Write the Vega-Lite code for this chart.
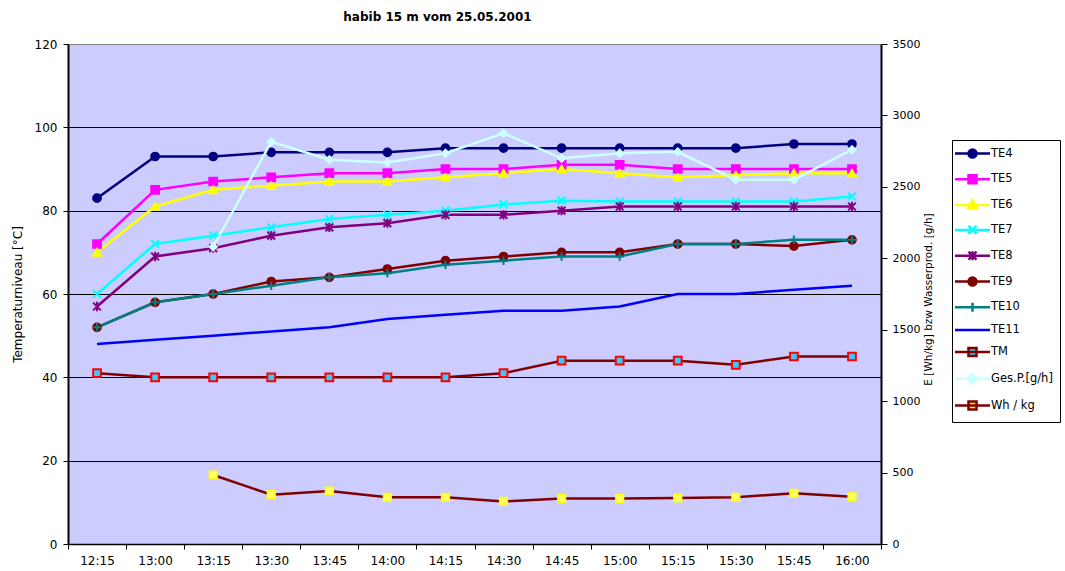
{
  "$schema": "https://vega.github.io/schema/vega-lite/v6.json",
  "width": 813,
  "height": 500,
  "autosize": "none",
  "padding": {"left": 68, "top": 44, "right": 184, "bottom": 27},
  "background": "white",
  "title": {
    "text": "habib 15 m vom 25.05.2001",
    "font": "DejaVu Sans",
    "fontSize": 12,
    "fontWeight": "bold",
    "color": "black",
    "anchor": "middle",
    "dx": -37,
    "offset": 14
  },
  "data": {
    "values": [
      {"t": "12:15", "TE4": 83, "TE5": 72, "TE6": 70, "TE7": 60, "TE8": 57, "TE9": 52, "TE10": 52, "TE11": 48, "TM": 41, "GesP": null, "Whkg": null},
      {"t": "13:00", "TE4": 93, "TE5": 85, "TE6": 81, "TE7": 72, "TE8": 69, "TE9": 58, "TE10": 58, "TE11": 49, "TM": 40, "GesP": null, "Whkg": null},
      {"t": "13:15", "TE4": 93, "TE5": 87, "TE6": 85, "TE7": 74, "TE8": 71, "TE9": 60, "TE10": 60, "TE11": 50, "TM": 40, "GesP": 2080, "Whkg": 483},
      {"t": "13:30", "TE4": 94, "TE5": 88, "TE6": 86, "TE7": 76, "TE8": 74, "TE9": 63, "TE10": 62, "TE11": 51, "TM": 40, "GesP": 2815, "Whkg": 345},
      {"t": "13:45", "TE4": 94, "TE5": 89, "TE6": 87, "TE7": 78, "TE8": 76, "TE9": 64, "TE10": 64, "TE11": 52, "TM": 40, "GesP": 2690, "Whkg": 371},
      {"t": "14:00", "TE4": 94, "TE5": 89, "TE6": 87, "TE7": 79, "TE8": 77, "TE9": 66, "TE10": 65, "TE11": 54, "TM": 40, "GesP": 2670, "Whkg": 327},
      {"t": "14:15", "TE4": 95, "TE5": 90, "TE6": 88, "TE7": 80, "TE8": 79, "TE9": 68, "TE10": 67, "TE11": 55, "TM": 40, "GesP": 2735, "Whkg": 327},
      {"t": "14:30", "TE4": 95, "TE5": 90, "TE6": 89, "TE7": 81.5, "TE8": 79, "TE9": 69, "TE10": 68, "TE11": 56, "TM": 41, "GesP": 2875, "Whkg": 298},
      {"t": "14:45", "TE4": 95, "TE5": 91, "TE6": 90, "TE7": 82.4, "TE8": 80, "TE9": 70, "TE10": 69, "TE11": 56, "TM": 44, "GesP": 2700, "Whkg": 318},
      {"t": "15:00", "TE4": 95, "TE5": 91, "TE6": 89, "TE7": 82.2, "TE8": 81, "TE9": 70, "TE10": 69, "TE11": 57, "TM": 44, "GesP": 2735, "Whkg": 318},
      {"t": "15:15", "TE4": 95, "TE5": 90, "TE6": 88, "TE7": 82.2, "TE8": 81, "TE9": 72, "TE10": 72, "TE11": 60, "TM": 44, "GesP": 2745, "Whkg": 322},
      {"t": "15:30", "TE4": 95, "TE5": 90, "TE6": 88.5, "TE7": 82.2, "TE8": 81, "TE9": 72, "TE10": 72, "TE11": 60, "TM": 43, "GesP": 2550, "Whkg": 327},
      {"t": "15:45", "TE4": 96, "TE5": 90, "TE6": 89, "TE7": 82.2, "TE8": 81, "TE9": 71.5, "TE10": 73, "TE11": 61, "TM": 45, "GesP": 2550, "Whkg": 355},
      {"t": "16:00", "TE4": 96, "TE5": 90, "TE6": 89, "TE7": 83.4, "TE8": 81, "TE9": 73, "TE10": 73, "TE11": 62, "TM": 45, "GesP": 2760, "Whkg": 330}
    ]
  },
  "transform": [
    {"fold": ["TE4", "TE5", "TE6", "TE7", "TE8", "TE9", "TE10", "TE11", "TM", "GesP", "Whkg"], "as": ["s", "v"]}
  ],
  "encoding": {
    "x": {
      "field": "t",
      "type": "ordinal",
      "sort": ["12:15", "13:00", "13:15", "13:30", "13:45", "14:00", "14:15", "14:30", "14:45", "15:00", "15:15", "15:30", "15:45", "16:00"],
      "scale": {"type": "band", "paddingInner": 0, "paddingOuter": 0},
      "axis": {
        "title": null,
        "labelAngle": 0,
        "tickBand": "extent",
        "tickSize": 5,
        "labelPadding": 6,
        "domainWidth": 1.5,
        "grid": false
      }
    }
  },
  "layer": [
    {
      "transform": [{"filter": {"field": "s", "oneOf": ["TE4", "TE5", "TE6", "TE7", "TE8", "TE9", "TE10", "TE11", "TM"]}}],
      "encoding": {
        "y": {
          "field": "v",
          "type": "quantitative",
          "scale": {"domain": [0, 120], "nice": false, "zero": true},
          "axis": {
            "orient": "left",
            "title": "Temperaturniveau [°C]",
            "values": [0, 20, 40, 60, 80, 100, 120],
            "grid": true,
            "gridColor": {"condition": {"test": "datum.value == 120 || datum.value == 0", "value": "#808080"}, "value": "black"},
            "gridWidth": 1,
            "tickSize": 5,
            "labelPadding": 6,
            "domainWidth": 2,
            "titlePadding": 10,
            "titleFontSize": 12
          }
        }
      },
      "layer": [
        {
          "mark": {"type": "line", "strokeWidth": 2.5},
          "encoding": {
            "color": {
              "field": "s",
              "type": "nominal",
              "scale": {
                "domain": ["TE4", "TE5", "TE6", "TE7", "TE8", "TE9", "TE10", "TE11", "TM"],
                "range": ["#000080", "#FF00FF", "#FFFF00", "#00FFFF", "#800080", "#800000", "#008080", "#0000FF", "#800000"]
              },
              "legend": null
            }
          }
        },
        {
          "transform": [{"filter": "datum.s != 'TE11'"}],
          "mark": {"type": "point", "filled": true, "opacity": 1, "size": 60, "strokeWidth": 2},
          "encoding": {
            "shape": {
              "field": "s",
              "type": "nominal",
              "scale": {
                "domain": ["TE4", "TE5", "TE6", "TE7", "TE8", "TE9", "TE10", "TM"],
                "range": ["circle", "square", "triangle-up", "M-1,-1L1,1M1,-1L-1,1", "M-1,-1L1,1M1,-1L-1,1M0,-1.2V1.2", "circle", "M-1.1,0H1.1M0,-1.1V1.1", "square"]
              },
              "legend": null
            },
            "fill": {
              "field": "s",
              "type": "nominal",
              "scale": {
                "domain": ["TE4", "TE5", "TE6", "TE7", "TE8", "TE9", "TE10", "TM"],
                "range": ["#000080", "#FF00FF", "#FFFF00", "#00FFFF", "#800080", "#800000", "#008080", "#33CCFF"]
              },
              "legend": null
            },
            "stroke": {
              "field": "s",
              "type": "nominal",
              "scale": {
                "domain": ["TE4", "TE5", "TE6", "TE7", "TE8", "TE9", "TE10", "TM"],
                "range": ["#000080", "#FF00FF", "#FFFF00", "#00FFFF", "#800080", "#800000", "#008080", "#FF0000"]
              },
              "legend": null
            }
          }
        }
      ]
    },
    {
      "transform": [{"filter": {"field": "s", "oneOf": ["GesP", "Whkg"]}}],
      "encoding": {
        "y": {
          "field": "v",
          "type": "quantitative",
          "scale": {"domain": [0, 3500], "nice": false, "zero": true},
          "axis": {
            "orient": "right",
            "title": "E [Wh/kg] bzw Wasserprod. [g/h]",
            "titleAngle": 270,
            "titleFontSize": 10.5,
            "titleX": 47,
            "titleY": 255,
            "titleAlign": "center",
            "titleBaseline": "middle",
            "format": "d",
            "values": [0, 500, 1000, 1500, 2000, 2500, 3000, 3500],
            "grid": false,
            "tickSize": 6,
            "labelPadding": 5,
            "labelFontSize": 11,
            "domainWidth": 2
          }
        }
      },
      "layer": [
        {
          "mark": {"type": "line", "strokeWidth": 2.5},
          "encoding": {
            "color": {
              "field": "s",
              "type": "nominal",
              "scale": {"domain": ["GesP", "Whkg"], "range": ["#CCFFFF", "#800000"]},
              "legend": null
            }
          }
        },
        {
          "mark": {"type": "point", "filled": true, "opacity": 1, "size": 60, "strokeWidth": 1.5},
          "encoding": {
            "shape": {
              "field": "s",
              "type": "nominal",
              "scale": {"domain": ["GesP", "Whkg"], "range": ["diamond", "square"]},
              "legend": null
            },
            "fill": {
              "field": "s",
              "type": "nominal",
              "scale": {"domain": ["GesP", "Whkg"], "range": ["#CCFFFF", "#FFFF66"]},
              "legend": null
            },
            "stroke": {
              "field": "s",
              "type": "nominal",
              "scale": {"domain": ["GesP", "Whkg"], "range": ["#CCFFFF", "#FFFF00"]},
              "legend": null
            }
          }
        }
      ]
    },
    {
      "transform": [{"filter": "false"}],
      "mark": {"type": "point", "filled": true, "opacity": 1, "size": 100, "strokeWidth": 2.5},
      "encoding": {
        "shape": {
          "field": "s",
          "type": "nominal",
          "scale": {
            "domain": ["TE4", "TE5", "TE6", "TE7", "TE8", "TE9", "TE10", "TE11", "TM", "GesP", "Whkg"],
            "range": [
              "M-3.5,0H3.5M-0.8,0a0.8,0.8 0 1,0 1.6,0a0.8,0.8 0 1,0 -1.6,0z",
              "M-3.5,0H3.5M-0.8,-0.8h1.6v1.6h-1.6z",
              "M-3.5,0H3.5M0,-0.9L0.9,0.7H-0.9z",
              "M-3.5,0H3.5M-0.8,-0.8L0.8,0.8M0.8,-0.8L-0.8,0.8",
              "M-3.5,0H3.5M-0.8,-0.8L0.8,0.8M0.8,-0.8L-0.8,0.8M0,-0.9V0.9",
              "M-3.5,0H3.5M-0.8,0a0.8,0.8 0 1,0 1.6,0a0.8,0.8 0 1,0 -1.6,0z",
              "M-3.5,0H3.5M0,-0.9V0.9",
              "M-3.5,0H3.5",
              "M-3.5,0H3.5M-0.8,-0.8h1.6v1.6h-1.6z",
              "M-3.5,0H3.5M0,-1L1,0L0,1L-1,0z",
              "M-3.5,0H3.5M-0.8,-0.8h1.6v1.6h-1.6z"
            ]
          },
          "legend": {
            "labelExpr": "datum.label == 'GesP' ? 'Ges.P.[g/h]' : datum.label == 'Whkg' ? 'Wh / kg' : datum.label"
          }
        },
        "fill": {
          "field": "s",
          "type": "nominal",
          "scale": {
            "domain": ["TE4", "TE5", "TE6", "TE7", "TE8", "TE9", "TE10", "TE11", "TM", "GesP", "Whkg"],
            "range": ["#000080", "#FF00FF", "#FFFF00", "#00FFFF", "#800080", "#800000", "#008080", "#0000FF", "#33CCFF", "#CCFFFF", "#FFFF00"]
          },
          "legend": {
            "labelExpr": "datum.label == 'GesP' ? 'Ges.P.[g/h]' : datum.label == 'Whkg' ? 'Wh / kg' : datum.label"
          }
        },
        "stroke": {
          "field": "s",
          "type": "nominal",
          "scale": {
            "domain": ["TE4", "TE5", "TE6", "TE7", "TE8", "TE9", "TE10", "TE11", "TM", "GesP", "Whkg"],
            "range": ["#000080", "#FF00FF", "#FFFF00", "#00FFFF", "#800080", "#800000", "#008080", "#0000FF", "#800000", "#CCFFFF", "#800000"]
          },
          "legend": {
            "labelExpr": "datum.label == 'GesP' ? 'Ges.P.[g/h]' : datum.label == 'Whkg' ? 'Wh / kg' : datum.label"
          }
        }
      }
    }
  ],
  "resolve": {
    "scale": {"y": "independent", "color": "independent", "fill": "independent", "stroke": "independent", "shape": "independent"}
  },
  "config": {
    "view": {"fill": "#CCCCFF", "stroke": "#808080", "strokeWidth": 1},
    "axis": {
      "labelFont": "DejaVu Sans",
      "labelFontSize": 12,
      "labelColor": "black",
      "titleFont": "DejaVu Sans",
      "titleFontWeight": "normal",
      "titleColor": "black",
      "domainColor": "black",
      "tickColor": "black",
      "gridOpacity": 1
    },
    "legend": {
      "orient": "none",
      "legendX": 884,
      "legendY": 96,
      "title": null,
      "strokeColor": "black",
      "fillColor": "white",
      "padding": 7,
      "symbolSize": 100,
      "symbolStrokeWidth": 2.5,
      "symbolOffset": 7,
      "labelOffset": 12,
      "rowPadding": 6.8,
      "labelFont": "DejaVu Sans",
      "labelFontSize": 11.5,
      "labelColor": "black"
    }
  }
}
